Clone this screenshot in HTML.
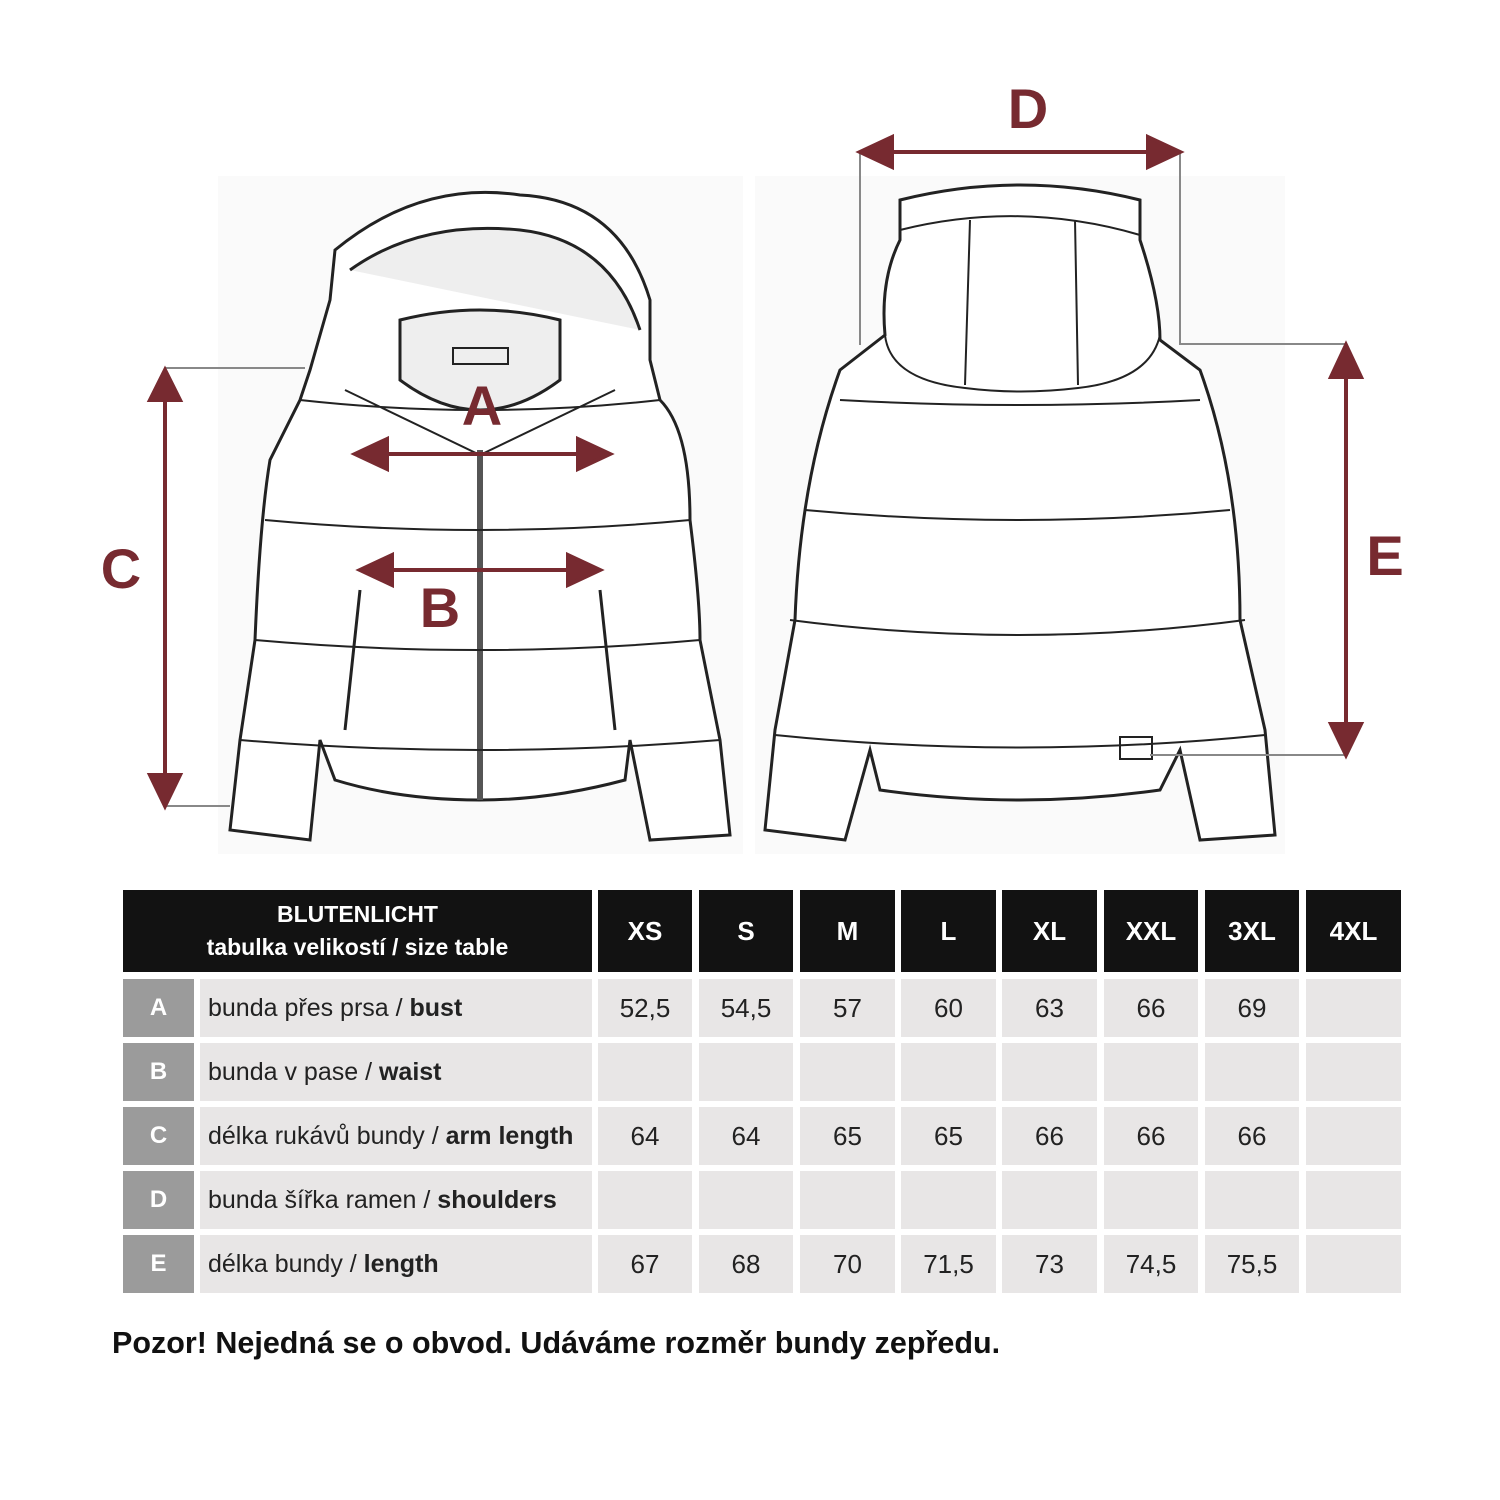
<!DOCTYPE html>
<html><head><meta charset="utf-8"><style>
body{margin:0;width:1500px;height:1500px;background:#fff;position:relative;font-family:"Liberation Sans",sans-serif;overflow:hidden}
.c{position:absolute;display:flex;align-items:center;justify-content:center;box-sizing:border-box}
.h{background:#121212;color:#fff;font-weight:bold;font-size:26px}
.g{background:#e8e6e6;color:#222;font-size:26px}
.l{background:#9b9b9b;color:#fff;font-weight:bold;font-size:24px}
.t{justify-content:flex-start;padding-left:8px;font-size:25px;white-space:pre}
</style></head><body>
<svg width="1500" height="870" style="position:absolute;left:0;top:0" fill="none" stroke="#222" stroke-width="3">
<rect x="218" y="176" width="525" height="678" fill="#fafafa" stroke="none"/>
<rect x="755" y="176" width="530" height="678" fill="#fafafa" stroke="none"/>
<path d="M335 250 Q420 180 520 195 Q620 200 650 300 L650 360 L660 400 Q690 430 690 520 Q700 600 700 640 L720 740 L730 835 L650 840 L630 740 L625 780 Q550 800 480 800 Q400 800 335 780 L320 740 L310 840 L230 830 L240 740 L255 640 Q260 520 270 460 L300 400 L310 370 L330 300 Z" fill="#fff"/>
<path d="M350 270 Q420 220 520 230 Q610 240 640 330 M400 320 Q480 300 560 320 L560 380 Q480 440 400 380 Z" fill="#eee"/>
<rect x="453" y="348" width="55" height="16" stroke-width="2"/>
<path d="M480 450 L480 800" stroke-width="6" stroke="#555"/>
<path d="M300 400 Q480 420 660 400 M265 520 Q480 540 690 520 M255 640 Q480 660 700 640 M240 740 Q480 760 720 740 M345 390 L480 455 L615 390" stroke-width="2"/>
<path d="M360 590 L345 730 M600 590 L615 730" stroke-width="3"/>
<path d="M900 200 Q1020 170 1140 200 L1140 240 Q1160 300 1160 340 L1200 370 Q1240 480 1240 620 L1265 730 L1275 835 L1200 840 L1180 750 L1160 790 Q1020 810 880 790 L870 750 L845 840 L765 830 L775 730 L795 620 Q800 480 840 370 L885 335 Q880 280 900 240 Z" fill="#fff"/>
<path d="M900 230 Q1020 200 1140 235 M970 220 L965 385 M1075 220 L1078 385 M885 335 Q890 380 965 388 Q1020 395 1078 388 Q1150 380 1160 335 M840 400 Q1020 410 1200 400 M805 510 Q1020 530 1230 510 M790 620 Q1020 650 1245 620 M775 735 Q1020 760 1265 735" stroke-width="2"/>
<rect x="1120" y="737" width="32" height="22" stroke-width="2"/>
</svg>
<svg width="1500" height="870" style="position:absolute;left:0;top:0">
<g stroke="#888" stroke-width="2" fill="none">
<path d="M165 368 H305 M165 806 H230 M860 152 V345 M1180 152 V345 M1180 344 H1346 M1150 755 H1346"/>
</g>
<g stroke="#772a30" stroke-width="4" fill="#772a30">
<line x1="165" y1="395" x2="165" y2="780"/><polygon points="150,400 165,370 180,400"/><polygon points="150,775 165,806 180,775"/>
<line x1="885" y1="152" x2="1155" y2="152"/><polygon points="892,137 860,152 892,167"/><polygon points="1148,137 1180,152 1148,167"/>
<line x1="1346" y1="370" x2="1346" y2="730"/><polygon points="1331,377 1346,345 1361,377"/><polygon points="1331,724 1346,755 1361,724"/>
<line x1="380" y1="454" x2="585" y2="454"/><polygon points="387,439 355,454 387,469"/><polygon points="578,439 610,454 578,469"/>
<line x1="385" y1="570" x2="575" y2="570"/><polygon points="392,555 360,570 392,585"/><polygon points="568,555 600,570 568,585"/>
</g>
<g fill="#772a30" font-family="Liberation Sans" font-weight="bold" font-size="56" text-anchor="middle">
<text x="482" y="425">A</text><text x="440" y="627">B</text><text x="121" y="588">C</text><text x="1028" y="128">D</text><text x="1385" y="575">E</text>
</g>
</svg>
<div class="c h" style="left:123px;top:890px;width:469px;height:82px;flex-direction:column;font-size:23px;line-height:33px;text-align:center">BLUTENLICHT<br>tabulka velikostí / size table</div>
<div class="c h" style="left:598px;top:890px;width:94px;height:82px">XS</div>
<div class="c h" style="left:699px;top:890px;width:94px;height:82px">S</div>
<div class="c h" style="left:800px;top:890px;width:95px;height:82px">M</div>
<div class="c h" style="left:901px;top:890px;width:95px;height:82px">L</div>
<div class="c h" style="left:1002px;top:890px;width:95px;height:82px">XL</div>
<div class="c h" style="left:1104px;top:890px;width:94px;height:82px">XXL</div>
<div class="c h" style="left:1205px;top:890px;width:94px;height:82px">3XL</div>
<div class="c h" style="left:1306px;top:890px;width:95px;height:82px">4XL</div>
<div id="rows"></div>
<div style="position:absolute;left:112px;top:1326px;font-size:30.5px;font-weight:bold;color:#111">Pozor! Nejedná se o obvod. Udáváme rozměr bundy zepředu.</div>
<script>
var rows=[["A","bunda přes prsa / ","bust",["52,5","54,5","57","60","63","66","69",""]],
["B","bunda v pase / ","waist",["","","","","","","",""]],
["C","délka rukávů bundy / ","arm length",["64","64","65","65","66","66","66",""]],
["D","bunda šířka ramen / ","shoulders",["","","","","","","",""]],
["E","délka bundy / ","length",["67","68","70","71,5","73","74,5","75,5",""]]];
var xs=[[598,94],[699,94],[800,95],[901,95],[1002,95],[1104,94],[1205,94],[1306,95]];
var h="";rows.forEach(function(r,i){var y=979+i*64;
h+='<div class="c l" style="left:123px;top:'+y+'px;width:71px;height:58px">'+r[0]+'</div>';
h+='<div class="c g t" style="left:200px;top:'+y+'px;width:392px;height:58px">'+r[1]+'<b>'+r[2]+'</b></div>';
xs.forEach(function(x,j){h+='<div class="c g" style="left:'+x[0]+'px;top:'+y+'px;width:'+x[1]+'px;height:58px">'+r[3][j]+'</div>';});});
document.getElementById("rows").innerHTML=h;
</script>
</body></html>
